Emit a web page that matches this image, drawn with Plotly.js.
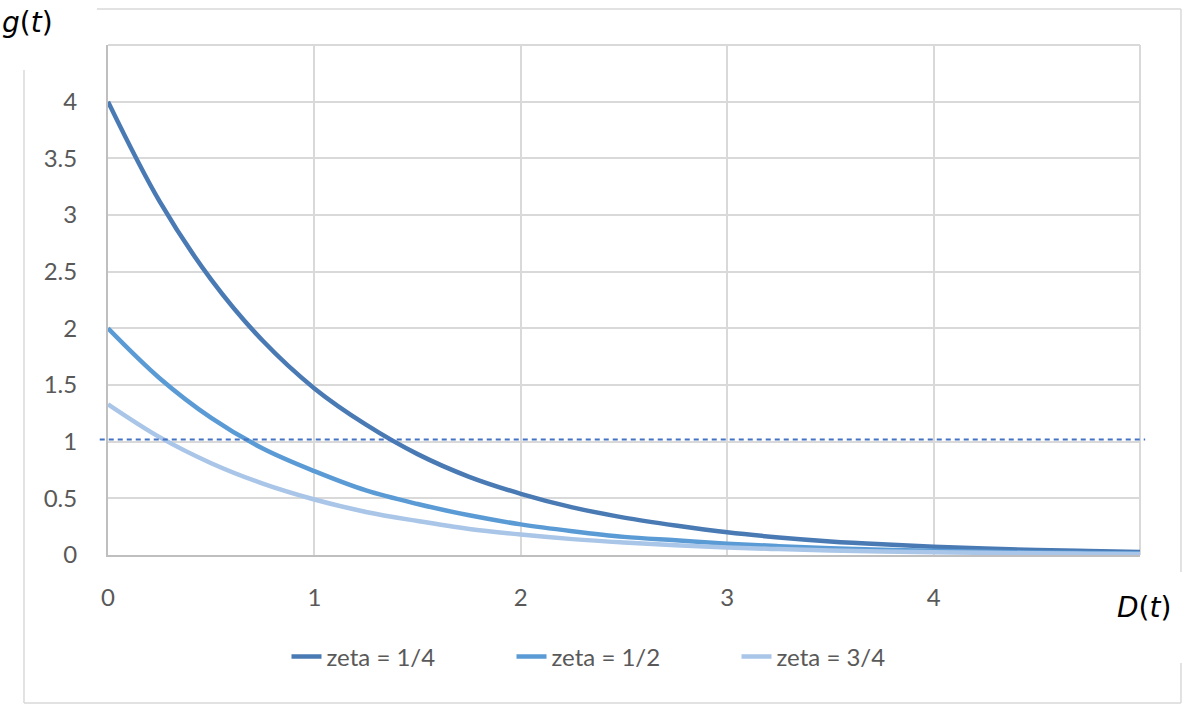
<!DOCTYPE html>
<html>
<head>
<meta charset="utf-8">
<script src="https://cdn.plot.ly/plotly-3.0.1.min.js"></script>
<style>
  html, body { margin: 0; padding: 0; background: #fff; }
  #chart { width: 1183px; height: 705px; }
</style>
</head>
<body>
<div id="chart"></div>
<script>
// g(t) against D(t) for three zeta values.
const dVals = [0, 0.25, 0.5, 0.75, 1, 1.25, 1.5, 1.75, 2, 2.25, 2.5, 2.75, 3, 3.25, 3.5, 3.75, 4, 4.25, 4.5, 4.75, 5];
const gQuarter = [4, 3.12, 2.43, 1.89, 1.47, 1.15, 0.89, 0.69, 0.54, 0.42, 0.33, 0.26, 0.2, 0.155, 0.12, 0.094, 0.073, 0.057, 0.044, 0.035, 0.027];
const gHalf = [2, 1.56, 1.21, 0.94, 0.74, 0.57, 0.45, 0.35, 0.27, 0.21, 0.16, 0.13, 0.1, 0.078, 0.06, 0.047, 0.037, 0.028, 0.022, 0.017, 0.013];
const gThreeQuarter = [1.33, 1.04, 0.81, 0.63, 0.49, 0.38, 0.3, 0.23, 0.18, 0.14, 0.11, 0.086, 0.066, 0.052, 0.04, 0.031, 0.024, 0.019, 0.015, 0.012, 0.009];
const seriesNames = ["zeta = 1/4", "zeta = 1/2", "zeta = 3/4"];
const refLineY = 1.02;
const xTicks = [0, 1, 2, 3, 4];
const yTicks = [0, 0.5, 1, 1.5, 2, 2.5, 3, 3.5, 4];

const COLORS = ["#4a7ab4", "#5b9bd5", "#a9c5e7"];
const GRID = "#d9d9d9";
const TEXT = "#595959";
const FONT = "Lato, 'Open Sans', sans-serif";

const traces = [gQuarter, gHalf, gThreeQuarter].map((ys, i) => ({
  x: dVals,
  y: ys,
  type: "scatter",
  mode: "lines",
  name: seriesNames[i],
  line: { color: COLORS[i], width: 4.5, shape: "spline", smoothing: 1 },
}));

const frame = { color: GRID, width: 1.5 };
const layout = {
  width: 1183,
  height: 705,
  margin: { l: 108, r: 43, t: 45, b: 150 },
  paper_bgcolor: "#fff",
  plot_bgcolor: "#fff",
  font: { family: FONT, size: 24, color: TEXT },
  showlegend: true,
  legend: {
    orientation: "h",
    x: 0.5, xanchor: "center",
    y: -0.2, yanchor: "middle",
    font: { family: FONT, size: 24, color: TEXT },
    entrywidth: 180,
    entrywidthmode: "pixels",
    traceorder: "normal",
  },
  xaxis: {
    range: [0, 5],
    tickvals: xTicks,
    ticktext: xTicks.map(String),
    showgrid: true, gridcolor: GRID, gridwidth: 2,
    zeroline: false,
    showline: true, linecolor: "#bfbfbf", linewidth: 2,
    ticks: "outside", ticklen: 20, tickcolor: "rgba(0,0,0,0)",
    tickfont: { family: FONT, size: 24, color: TEXT },
  },
  yaxis: {
    range: [0, 4.5],
    tickvals: yTicks,
    ticktext: yTicks.map(String),
    showgrid: true, gridcolor: GRID, gridwidth: 2,
    zeroline: false,
    showline: true, linecolor: "#bfbfbf", linewidth: 2,
    ticks: "outside", ticklen: 24, tickcolor: "rgba(0,0,0,0)",
    tickfont: { family: FONT, size: 24, color: TEXT },
  },
  shapes: [
    // top and right edges of the plot area
    { type: "line", xref: "paper", yref: "paper", x0: 0, x1: 1, y0: 1, y1: 1, line: { color: GRID, width: 2 }, layer: "below" },
    { type: "line", xref: "paper", yref: "paper", x0: 1, x1: 1, y0: 0, y1: 1, line: { color: GRID, width: 2 }, layer: "below" },
    // dashed reference line
    { type: "line", xref: "paper", yref: "y", x0: -0.008, x1: 1.005, y0: refLineY, y1: refLineY,
      line: { color: "#4472c4", width: 2, dash: "5px,4px" } },
    // outer chart frame, broken where the axis labels sit
    { type: "line", xref: "paper", yref: "paper", x0: -0.0107, x1: 1.0397, y0: 1.0706, y1: 1.0706, line: frame },
    { type: "line", xref: "paper", yref: "paper", x0: -0.0814, x1: -0.0814, y0: -0.290, y1: 0.951, line: frame },
    { type: "line", xref: "paper", yref: "paper", x0: -0.0814, x1: 1.0397, y0: -0.290, y1: -0.290, line: frame },
    { type: "line", xref: "paper", yref: "paper", x0: 1.0397, x1: 1.0397, y0: -0.0333, y1: 1.0706, line: frame },
    { type: "line", xref: "paper", yref: "paper", x0: 1.0397, x1: 1.0397, y0: -0.290, y1: -0.212, line: frame },
  ],
  annotations: [
    { xref: "paper", yref: "paper", x: -0.105, y: 1.045, xanchor: "left", yanchor: "middle", showarrow: false,
      text: "<i>g</i>(<i>t</i>)", font: { family: "'DejaVu Sans', sans-serif", size: 28, color: "#000" } },
    { xref: "paper", yref: "paper", x: 0.976, y: -0.102, xanchor: "left", yanchor: "middle", showarrow: false,
      text: "<i>D</i>(<i>t</i>)", font: { family: "'DejaVu Sans', sans-serif", size: 28, color: "#000" } },
  ],
};

Plotly.newPlot("chart", traces, layout, { displayModeBar: false, staticPlot: true });
</script>
</body>
</html>
